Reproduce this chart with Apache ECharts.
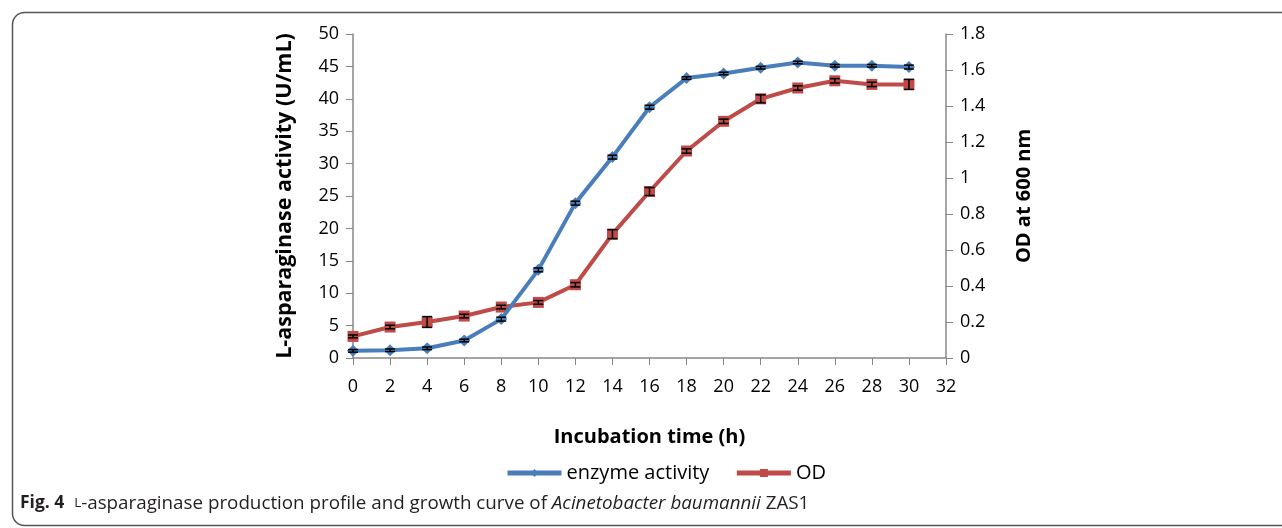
<!DOCTYPE html>
<html>
<head>
<meta charset="utf-8">
<script src="https://cdn.jsdelivr.net/npm/echarts@6/dist/echarts.min.js"></script>
<style>
  html, body { margin: 0; padding: 0; background: #fff; }
  #chart { width: 1282px; height: 528px; }
</style>
</head>
<body>
<div id="chart"></div>
<script>
// incubation time (h)
const hours = [0, 2, 4, 6, 8, 10, 12, 14, 16, 18, 20, 22, 24, 26, 28, 30]
// L-asparaginase activity (U/mL)
const enzyme = [1.1, 1.2, 1.5, 2.7, 6.0, 13.6, 23.9, 31.0, 38.7, 43.2, 43.9, 44.8, 45.6, 45.1, 45.1, 44.9]
const enzymeErr = [0.2, 0.2, 0.2, 0.2, 0.3, 0.3, 0.3, 0.3, 0.3, 0.2, 0.2, 0.2, 0.2, 0.2, 0.2, 0.3]
// OD at 600 nm
const od = [0.12, 0.172, 0.2, 0.233, 0.283, 0.309, 0.407, 0.688, 0.925, 1.15, 1.315, 1.44, 1.5, 1.54, 1.52, 1.52]
const odErr = [0.008, 0.01, 0.03, 0.01, 0.01, 0.01, 0.012, 0.025, 0.022, 0.012, 0.012, 0.022, 0.012, 0.012, 0.012, 0.028]

const blue = '#4a7ebb'
const red = '#be4b48'
const axisColor = '#878787'
const font = 'Open Sans'

const errBar = (vals, errs) => hours.map((h, i) => [h, vals[i] - errs[i], vals[i] + errs[i]])

const renderErr = function (params, api) {
  const lo = api.coord([api.value(0), api.value(1)])
  const hi = api.coord([api.value(0), api.value(2)])
  const w = 5
  const style = { stroke: '#000', lineWidth: 1.5 }
  return {
    type: 'group',
    children: [
      { type: 'line', shape: { x1: lo[0], y1: lo[1], x2: hi[0], y2: hi[1] }, style },
      { type: 'line', shape: { x1: lo[0] - w, y1: lo[1], x2: lo[0] + w, y2: lo[1] }, style },
      { type: 'line', shape: { x1: hi[0] - w, y1: hi[1], x2: hi[0] + w, y2: hi[1] }, style }
    ]
  }
}

const chart = echarts.init(document.getElementById('chart'))

chart.setOption({
  animation: false,
  textStyle: { fontFamily: font },
  grid: { left: 353, right: 336, top: 34, bottom: 170 },
  legend: {
    bottom: 40,
    left: 500,
    itemWidth: 54,
    itemHeight: 10,
    itemGap: 25,
    lineStyle: { width: 5 },
    textStyle: { fontSize: 20, color: '#000', fontFamily: font },
    data: ['enzyme activity', 'OD']
  },
  xAxis: {
    type: 'value',
    min: 0,
    max: 32,
    interval: 2,
    name: 'Incubation time (h)',
    nameLocation: 'middle',
    nameGap: 69,
    nameTextStyle: { fontSize: 20, fontWeight: 'bold', color: '#000' },
    axisLine: { lineStyle: { color: axisColor, width: 1.5 } },
    axisTick: { length: 7, lineStyle: { color: axisColor } },
    axisLabel: { fontSize: 18, color: '#000', margin: 20 },
    splitLine: { show: false }
  },
  yAxis: [
    {
      type: 'value',
      min: 0,
      max: 50,
      interval: 5,
      name: 'L-asparaginase activity (U/mL)',
      nameLocation: 'middle',
      nameRotate: 90,
      nameGap: 57,
      nameTextStyle: { fontSize: 21.5, fontWeight: 'bold', color: '#000' },
      axisLine: { show: true, lineStyle: { color: axisColor, width: 1.5 } },
      axisTick: { show: true, length: 7, lineStyle: { color: axisColor } },
      axisLabel: { fontSize: 18, color: '#000', margin: 14 },
      splitLine: { show: false }
    },
    {
      type: 'value',
      min: 0,
      max: 1.8,
      interval: 0.2,
      position: 'right',
      name: 'OD at 600 nm',
      nameLocation: 'middle',
      nameRotate: 90,
      nameGap: 68,
      nameTextStyle: { fontSize: 20, fontWeight: 'bold', color: '#000' },
      axisLine: { show: true, lineStyle: { color: axisColor, width: 1.5 } },
      axisTick: { show: true, length: 7, lineStyle: { color: axisColor } },
      axisLabel: {
        fontSize: 18, color: '#000', margin: 14,
        formatter: v => String(Math.round(v * 10) / 10)
      },
      splitLine: { show: false }
    }
  ],
  series: [
    {
      name: 'enzyme activity',
      type: 'line',
      yAxisIndex: 0,
      data: hours.map((h, i) => [h, enzyme[i]]),
      symbol: 'diamond',
      symbolSize: 12,
      lineStyle: { color: blue, width: 4 },
      itemStyle: { color: blue },
      z: 3
    },
    {
      name: 'OD',
      type: 'line',
      yAxisIndex: 1,
      data: hours.map((h, i) => [h, od[i]]),
      symbol: 'rect',
      symbolSize: 11,
      lineStyle: { color: red, width: 4 },
      itemStyle: { color: red },
      z: 2
    },
    {
      type: 'custom',
      yAxisIndex: 0,
      renderItem: renderErr,
      data: errBar(enzyme, enzymeErr),
      encode: { x: 0, y: [1, 2] },
      z: 5
    },
    {
      type: 'custom',
      yAxisIndex: 1,
      renderItem: renderErr,
      data: errBar(od, odErr),
      encode: { x: 0, y: [1, 2] },
      z: 5
    }
  ],
  graphic: [
    {
      type: 'rect',
      left: 10,
      top: 10,
      shape: { width: 1400, height: 513, r: 12 },
      style: { fill: 'none', stroke: '#555', lineWidth: 1.5 },
      silent: true
    },
    {
      type: 'text',
      left: 20,
      top: 494,
      style: {
        text: '{b|Fig. 4}  {s|L}-asparaginase production profile and growth curve of {i|Acinetobacter baumannii} ZAS1',
        fontFamily: font,
        fontSize: 18.8,
        fill: '#231f20',
        rich: {
          b: { fontWeight: 'bold', fontSize: 17.5, fontFamily: font, fill: '#231f20' },
          s: { fontSize: 13.5, fontFamily: font, fill: '#231f20' },
          i: { fontStyle: 'italic', fontSize: 18.8, fontFamily: font, fill: '#231f20' }
        }
      }
    }
  ]
})
</script>
</body>
</html>
